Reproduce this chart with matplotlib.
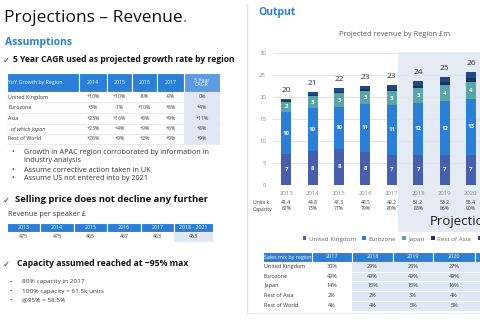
import matplotlib
matplotlib.use('Agg')
from matplotlib import pyplot as plt
from matplotlib.patches import Rectangle
from matplotlib.transforms import blended_transform_factory
import numpy as np

plt.rcParams['font.family'] = ['Open Sans', 'DejaVu Sans']

# chart data (revenue £m by region)
years = ['2013', '2014', '2015', '2016', '2017', '2018', '2019', '2020']
uk = [7.0, 7.7, 8.2, 7.6, 6.9, 6.9, 6.9, 6.9]
eurozone = [9.6, 9.8, 9.6, 10.8, 11.3, 11.7, 12.1, 12.6]
japan = [2.3, 2.7, 3.0, 3.0, 3.1, 3.4, 3.7, 4.0]
rest_asia = [0.3, 0.3, 0.4, 0.4, 0.5, 0.6, 0.7, 0.9]
rest_world = [0.4, 0.7, 0.8, 0.8, 1.0, 1.0, 1.2, 1.2]
units_k = ['41.4', '44.8', '47.3', '48.5', '49.2', '51.2', '53.2', '55.4']
capacity = ['67%', '73%', '77%', '79%', '80%', '83%', '86%', '90%']

# growth table
growth_cols = ['2014', '2015', '2016', '2017', '5 Year\nCAGR']
growth_rows = ['United Kingdom', 'Eurozone', 'Asia', 'of which Japan', 'Rest of World']
growth = [['+10%', '+10%', '-8%', '-9%', '0%'],
          ['+3%', '-1%', '+10%', '+6%', '+4%'],
          ['+23%', '+16%', '+8%', '+9%', '+11%'],
          ['+23%', '+4%', '+9%', '+6%', '+8%'],
          ['+26%', '+9%', '+2%', '+9%', '+9%']]

# price table
price_cols = ['2013', '2014', '2015', '2016', '2017', '2018 - 2021']
price = ['475', '475', '465', '467', '463', '463']

# sales mix table
mix_cols = ['2017', '2018', '2019', '2020', '']
mix_rows = ['United Kingdom', 'Eurozone', 'Japan', 'Rest of Asia', 'Rest of World']
mix = [['30%', '29%', '28%', '27%', ''],
       ['49%', '49%', '49%', '49%', ''],
       ['14%', '15%', '15%', '16%', ''],
       ['2%', '2%', '3%', '4%', ''],
       ['4%', '4%', '5%', '5%', '']]

blue = '#2b7fd6'
light = '#dfe8f4'
dark = '#333333'

fig = plt.figure(figsize=(4.8, 3.2), dpi=100)
bg = fig.add_axes([0, 0, 1, 1])
bg.set_xlim(0, 480)
bg.set_ylim(320, 0)
bg.axis('off')

# ---------------- left side ----------------
title = bg.text(4, 18, 'Projections \u2013 Revenue', fontsize=12.5, color='#111111', va='center')
bg.annotate('.', xy=(1, 0.5), xycoords=title, va='center', ha='left',
            fontsize=12.5, color=blue)
bg.text(5, 43, 'Assumptions', fontsize=7.5, color=blue, fontweight='bold', va='center')
bg.text(3, 60, '\u2713', fontsize=6, color=dark, va='center', family='DejaVu Sans')
bg.text(13, 60, '5 Year CAGR used as projected growth rate by region', fontsize=6.1,
        fontweight='bold', color='#111111', va='center')

gx = [7, 79, 107, 132, 157, 184, 220]
gy = [73, 92, 102, 113, 124, 134, 144]
for j in range(len(gx) - 1):
    fc = '#5d9ce3' if j == 5 else blue
    bg.add_patch(Rectangle((gx[j], gy[0]), gx[j + 1] - gx[j], gy[1] - gy[0], fc=fc, ec='white', lw=0.8))
bg.add_patch(Rectangle((gx[5], gy[1]), gx[6] - gx[5], gy[-1] - gy[1], fc=light, ec='none'))
bg.text(gx[0] + 1.5, (gy[0] + gy[1]) / 2, 'YoY Growth by Region', color='white', fontsize=3.8, va='center')
for j, h in enumerate(growth_cols):
    bg.text((gx[j + 1] + gx[j + 2]) / 2, (gy[0] + gy[1]) / 2, h, color='white', fontsize=3.8,
            ha='center', va='center', linespacing=1.0)
for i, name in enumerate(growth_rows):
    yc = (gy[i + 1] + gy[i + 2]) / 2
    if name.startswith('of which'):
        bg.text(gx[0] + 4, yc, name, fontsize=3.8, color=dark, va='center', style='italic')
    else:
        bg.text(gx[0] + 1.5, yc, name, fontsize=3.8, color=dark, va='center')
    for j, v in enumerate(growth[i]):
        bg.text((gx[j + 1] + gx[j + 2]) / 2, yc, v, fontsize=3.8, color=dark, ha='center', va='center')
    bg.plot([gx[0], gx[-1]], [gy[i + 2], gy[i + 2]], color='#e3e8ef', lw=0.6)

bg.text(11, 153, '\u2022', fontsize=5, color=dark, va='center')
bg.text(24, 149.5, 'Growth in APAC region corroborated by information in\nindustry analysis',
        fontsize=5.2, color=dark, va='top', linespacing=1.05)
bg.text(11, 170, '\u2022', fontsize=5, color=dark, va='center')
bg.text(24, 170, 'Assume corrective action taken in UK', fontsize=5.2, color=dark, va='center')
bg.text(11, 179, '\u2022', fontsize=5, color=dark, va='center')
bg.text(24, 179, 'Assume US not entered into by 2021', fontsize=5.2, color=dark, va='center')

bg.text(3, 200, '\u2713', fontsize=6, color=dark, va='center', family='DejaVu Sans')
bg.text(15, 200, 'Selling price does not decline any further', fontsize=6.8,
        fontweight='bold', color='#111111', va='center')
bg.text(8, 215, 'Revenue per speaker \u00a3', fontsize=5.2, color=dark, va='center')

px = [7, 40, 74, 107, 141, 174, 213]
py = [223, 232, 242]
for j in range(len(px) - 1):
    bg.add_patch(Rectangle((px[j], py[0]), px[j + 1] - px[j], py[1] - py[0], fc=blue, ec='white', lw=0.8))
    bg.text((px[j] + px[j + 1]) / 2, (py[0] + py[1]) / 2, price_cols[j], color='white',
            fontsize=3.8, ha='center', va='center')
    if j == 5:
        bg.add_patch(Rectangle((px[j], py[1]), px[j + 1] - px[j], py[2] - py[1], fc=light, ec='none'))
    bg.text((px[j] + px[j + 1]) / 2, (py[1] + py[2]) / 2, price[j], color=dark,
            fontsize=3.8, ha='center', va='center')

bg.text(3, 264, '\u2713', fontsize=6, color=dark, va='center', family='DejaVu Sans')
bg.text(17, 264, 'Capacity assumed reached at ~95% max', fontsize=6.2,
        fontweight='bold', color='#111111', va='center')
for y, t in zip([282, 291, 300], ['80% capacity in 2017', '100% capacity = 61.5k units', '@95% = 58.5%']):
    bg.text(9, y, '\u2022', fontsize=4.5, color=dark, va='center')
    bg.text(22, y, t, fontsize=4.6, color=dark, va='center')

# ---------------- right side ----------------
bg.plot([247, 247], [4, 313], color='#dbe2ec', lw=1)
bg.plot([247, 480], [313, 313], color='#e8edf3', lw=0.8)
bg.text(258, 13, 'Output', fontsize=7.5, color=blue, fontweight='bold', va='center')
bg.text(395, 34, 'Projected revenue by Region \u00a3m', fontsize=5.3, color='#595959',
        ha='center', va='center')
bg.add_patch(Rectangle((398, 52), 90, 180, fc='#e4ebf5', ec='none'))
bg.text(430, 222, 'Projections', fontsize=9.5, color='#1a1a1a', va='center')

ax = fig.add_axes([273 / 480, 1 - 185 / 320, 264 / 480, 132 / 320])
ax.set_facecolor('none')
x = np.arange(len(years))
w = 0.38
series = [(uk, 'United Kingdom', '#4860ac'), (eurozone, 'Eurozone', '#2b7fd6'),
          (japan, 'Japan', '#5aa5a8'), (rest_asia, 'Rest of Asia', '#1d3460'),
          (rest_world, 'Rest of World', '#1f4a86')]
bottom = np.zeros(len(years))
handles = []
for k, (vals, name, col) in enumerate(series):
    vals = np.array(vals)
    b = ax.bar(x, vals, w, bottom=bottom, color=col, label=name, zorder=3)
    handles.append(b)
    if k < 3:
        for xi, v, b0 in zip(x, vals, bottom):
            ax.text(xi, b0 + v / 2, f'{v:.0f}', color='white', fontsize=4.3,
                    fontweight='bold', ha='center', va='center', zorder=4)
    bottom = bottom + vals
for xi, t in zip(x, bottom):
    ax.annotate(f'{t:.0f}', (xi, t), xytext=(0, 3.5), textcoords='offset points',
                ha='center', va='bottom', fontsize=6, color='#333333')

ax.set_xlim(-0.5, 9.5)
ax.set_ylim(0, 30)
ax.set_yticks(range(0, 31, 5))
ax.grid(axis='y', color='#e4e4e4', lw=0.8, zorder=0)
for s in ax.spines.values():
    s.set_visible(False)
ax.tick_params(length=0, labelsize=4.3, labelcolor='#888888', pad=5)
ax.tick_params(axis='x', pad=4)
ax.set_xticks(x)
ax.set_xticklabels(years)

tr = blended_transform_factory(ax.transData, bg.transData)
bg.text(253, 202, 'Units k', fontsize=3.6, color=dark, va='center')
bg.text(253, 209, 'Capacity', fontsize=3.6, color=dark, va='center')
for xi, u, c in zip(x, units_k, capacity):
    ax.text(xi, 202, u, transform=tr, fontsize=3.6, color=dark, ha='center', va='center')
    ax.text(xi, 209, c, transform=tr, fontsize=3.6, color=dark, ha='center', va='center')

fig.legend(handles=handles, loc='center left', bbox_to_anchor=(297 / 480, 1 - 239 / 320),
           ncol=5, frameon=False, fontsize=4.5, handlelength=0.6, handleheight=0.6,
           handletextpad=0.4, columnspacing=1.0, labelcolor='#666666')

# sales mix table
mx = [263, 312, 352, 393, 433, 475, 520]
my = [252, 262, 271.5, 281, 290.5, 300.5, 311]
for j in range(len(mx) - 1):
    bg.add_patch(Rectangle((mx[j], my[0]), mx[j + 1] - mx[j], my[1] - my[0], fc=blue, ec='white', lw=0.8))
    if j >= 2:
        bg.add_patch(Rectangle((mx[j], my[1]), mx[j + 1] - mx[j], my[-1] - my[1], fc=light, ec='none'))
bg.text(mx[0] + 1, (my[0] + my[1]) / 2, 'Sales mix by region', color='white', fontsize=3.8, va='center')
for j, h in enumerate(mix_cols):
    bg.text((mx[j + 1] + mx[j + 2]) / 2, (my[0] + my[1]) / 2, h, color='white', fontsize=4,
            ha='center', va='center')
for i, name in enumerate(mix_rows):
    yc = (my[i + 1] + my[i + 2]) / 2
    bg.text(mx[0] + 1, yc, name, fontsize=4, color=dark, va='center')
    for j, v in enumerate(mix[i]):
        bg.text((mx[j + 1] + mx[j + 2]) / 2, yc, v, fontsize=4, color=dark, ha='center', va='center')
    bg.plot([mx[0], mx[-1]], [my[i + 2], my[i + 2]], color='white', lw=0.6)

fig.savefig('out.png', dpi=100)
